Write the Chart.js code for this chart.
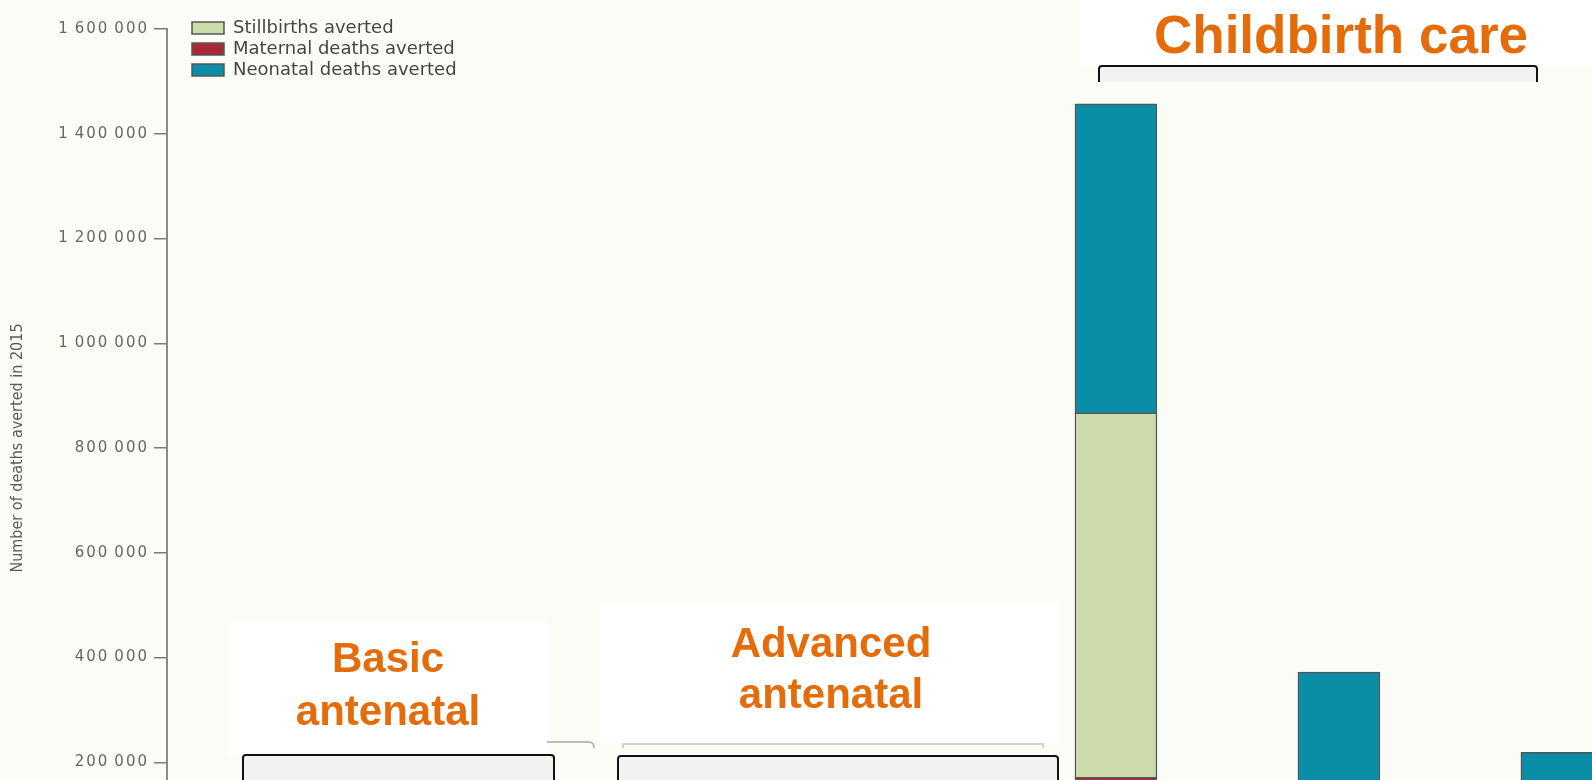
<!DOCTYPE html>
<html>
<head>
<meta charset="utf-8">
<script src="https://cdn.jsdelivr.net/npm/chart.js@4.4.1/dist/chart.umd.min.js"></script>
<style>
  html, body { margin: 0; padding: 0; background: #fcfcf7; overflow: hidden; }
  #wrap { width: 1592px; height: 780px; overflow: hidden; }
  canvas { display: block; }
</style>
</head>
<body>
<div id="wrap"><canvas id="avertedChart" width="1592" height="900"></canvas></div>
<script>
// Deaths averted in 2015 for the childbirth-care bars (slot = bar position along x)
const barSlots = [1, 2, 3];
const maternalAverted = [171000, 0, 0];
const stillbirthsAverted = [696000, 0, 0];
const neonatalAverted = [590000, 372000, 219000];

const yMax = 1600000;
const yStep = 200000;
const legendOrder = ['Stillbirths averted', 'Maternal deaths averted', 'Neonatal deaths averted'];

// Orange package headings drawn on top of the figure
const packageHeadings = [
  { lines: ['Basic', 'antenatal'], cx: 388, baselines: [672, 725], size: 42,
    panel: [228, 622, 319, 133], bracket: [243, 554, 755, 800] },
  { lines: ['Advanced', 'antenatal'], cx: 831, baselines: [657, 708], size: 42,
    panel: [600, 603, 460, 140], bracket: [618, 1058, 756, 800] },
  { lines: ['Childbirth care'], cx: 1341, baselines: [53], size: 53,
    panel: [1080, 0, 512, 66], bracket: [1099, 1537, 66, 82] }
];

function thinThousands(v) {
  return String(v).replace(/\B(?=(\d{3})+(?!\d))/g, '\u2009');
}

function drawBracket(ctx, x1, x2, top, bottom) {
  ctx.fillStyle = '#f2f2f2';
  ctx.fillRect(x1, top, x2 - x1, bottom - top);
  ctx.beginPath();
  ctx.moveTo(x1, bottom);
  ctx.lineTo(x1, top + 3);
  ctx.quadraticCurveTo(x1, top, x1 + 3, top);
  ctx.lineTo(x2 - 3, top);
  ctx.quadraticCurveTo(x2, top, x2, top + 3);
  ctx.lineTo(x2, bottom);
  ctx.strokeStyle = '#111';
  ctx.lineWidth = 2;
  ctx.stroke();
}

const packageOverlay = {
  id: 'packageOverlay',
  beforeDraw(chart) {
    chart.ctx.letterSpacing = '0px';
  },
  afterLayout(chart) {
    // legend sits inside the plot, a little right of the axis
    const lg = chart.legend;
    lg.left = chart.chartArea.left + 22;
    lg.top = chart.chartArea.top - 13;
  },
  afterDatasetsDraw(chart) {
    // y tick labels are drawn after this, widely tracked
    chart.ctx.letterSpacing = '2px';
  },
  afterDraw(chart) {
    const ctx = chart.ctx;
    ctx.save();
    ctx.letterSpacing = '0px';

    // faint leftovers of the original group brackets
    ctx.strokeStyle = '#a8a8a8';
    ctx.lineWidth = 1.5;
    ctx.beginPath();
    ctx.moveTo(547, 742);
    ctx.lineTo(589, 742);
    ctx.quadraticCurveTo(594, 742, 594, 748);
    ctx.stroke();
    ctx.strokeStyle = '#c4c4c4';
    ctx.beginPath();
    ctx.moveTo(623, 748);
    ctx.lineTo(623, 744);
    ctx.lineTo(1043, 744);
    ctx.lineTo(1043, 748);
    ctx.stroke();

    packageHeadings.forEach(h => {
      const [px, py, pw, ph] = h.panel;
      ctx.fillStyle = '#ffffff';
      ctx.fillRect(px, py, pw, ph);
      const [x1, x2, top, bottom] = h.bracket;
      drawBracket(ctx, x1, x2, top, bottom);
      ctx.fillStyle = '#e46c0a';
      ctx.font = 'bold ' + h.size + 'px "Liberation Sans", Arial, sans-serif';
      ctx.textAlign = 'center';
      ctx.textBaseline = 'alphabetic';
      h.lines.forEach((t, i) => ctx.fillText(t, h.cx, h.baselines[i]));
    });
    ctx.restore();
  }
};

Chart.defaults.font.family = '"DejaVu Sans", sans-serif';

const barBorder = '#555555';

new Chart(document.getElementById('avertedChart').getContext('2d'), {
  type: 'bar',
  data: {
    labels: barSlots,
    datasets: [
      { label: 'Maternal deaths averted', data: maternalAverted,
        backgroundColor: '#a8283c', borderColor: barBorder, borderWidth: 1.5 },
      { label: 'Stillbirths averted', data: stillbirthsAverted,
        backgroundColor: '#cddcaa', borderColor: barBorder, borderWidth: 1.5 },
      { label: 'Neonatal deaths averted', data: neonatalAverted,
        backgroundColor: '#0a8da7', borderColor: barBorder, borderWidth: 1.5 }
    ]
  },
  options: {
    responsive: false,
    animation: false,
    devicePixelRatio: 1,
    barThickness: 82,
    layout: { padding: { top: 29, right: 0, bottom: 33, left: 0 } },
    plugins: {
      tooltip: { enabled: false },
      legend: {
        position: 'chartArea',
        align: 'start',
        labels: {
          boxWidth: 32,
          boxHeight: 12,
          padding: 3,
          color: '#454545',
          font: { size: 18 },
          sort: (a, b) => legendOrder.indexOf(a.text) - legendOrder.indexOf(b.text)
        }
      }
    },
    scales: {
      x: {
        type: 'linear',
        stacked: true,
        display: false,
        offset: false,
        min: -3.256,
        max: 3.135
      },
      y: {
        stacked: true,
        min: 0,
        max: yMax,
        afterFit(scale) { scale.width = 167; },
        border: { color: '#8a8a8a', width: 2 },
        grid: { drawOnChartArea: false, drawTicks: true, tickLength: 13, color: '#7a7a7a', lineWidth: 1.5 },
        ticks: {
          stepSize: yStep,
          color: '#666666',
          font: { size: 15 },
          padding: 5,
          z: 1,
          callback: v => thinThousands(v)
        },
        title: {
          display: true,
          text: 'Number of deaths averted in 2015',
          color: '#5a5a5a',
          font: { family: '"Liberation Sans Narrow", "DejaVu Sans Condensed", "Roboto Condensed", "Noto Sans", sans-serif', size: 16 },
          padding: { top: 8, bottom: 0 }
        }
      }
    }
  },
  plugins: [packageOverlay]
});
</script>
</body>
</html>
